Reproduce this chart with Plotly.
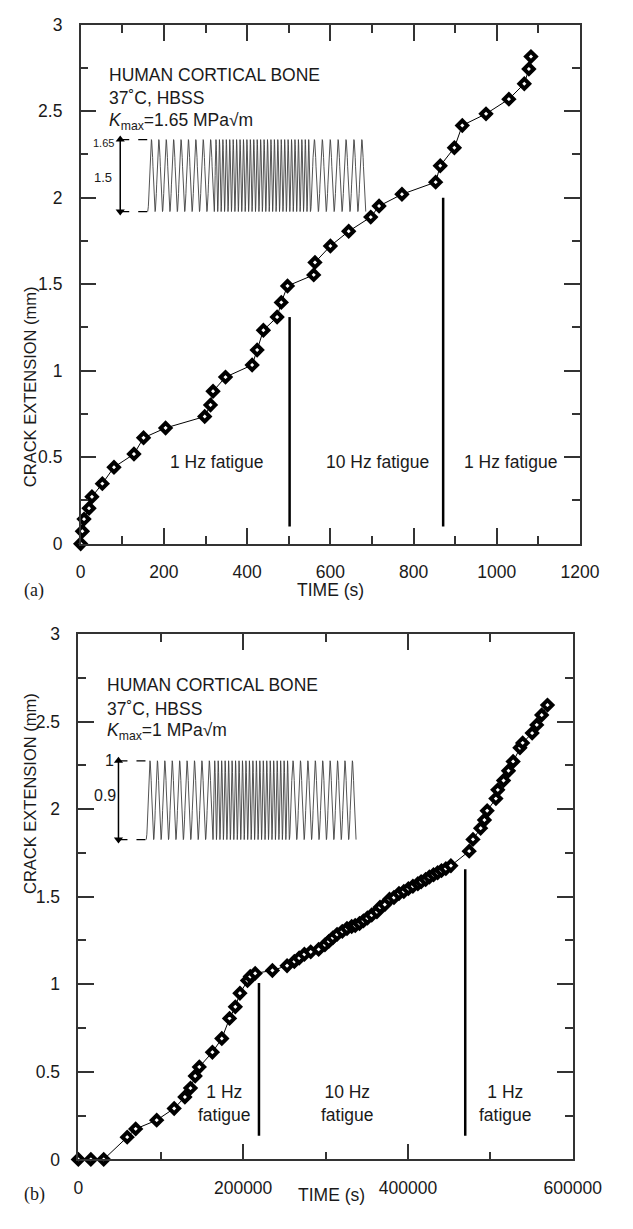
import numpy as np
import plotly.graph_objects as go

# ---------------- data: panel (a) ----------------
time_a = [0, 4, 8, 20, 27, 52, 80, 128, 151, 204, 298, 312, 318, 348, 412, 424, 439,
          472, 482, 497, 560, 563, 600, 644, 697, 717, 772, 853, 864, 898, 917, 974,
          1029, 1066, 1077, 1082]
crack_a = [0, 0.072, 0.142, 0.205, 0.271, 0.347, 0.442, 0.518, 0.612, 0.669, 0.735,
           0.802, 0.881, 0.963, 1.033, 1.120, 1.234, 1.310, 1.395, 1.490, 1.554, 1.626,
           1.721, 1.806, 1.888, 1.952, 2.020, 2.090, 2.185, 2.289, 2.418, 2.485, 2.570,
           2.659, 2.744, 2.816]

# ---------------- data: panel (b) ----------------
time_b = [0, 15200, 30800, 59300, 69600, 95100, 116300, 129300, 136100, 141800, 146800,
          162700, 174100, 183500, 190500, 196100, 205300, 208600, 214600,
          235500, 253300, 262100, 268000, 274300, 282000, 291600, 299200, 304000, 308800,
          314000, 320300, 326000, 331700, 336000, 341200, 346000, 350800, 356000, 362300,
          366100, 371900, 377600, 383000, 389100, 395000, 400500, 406000, 412000, 416000,
          421500, 426000, 431000, 436000, 440700, 446000, 452100,
          474300, 478900, 488200, 492800, 496100, 506700, 509000, 516000, 522000, 527600,
          535900, 539200, 550700, 556300, 562300, 569300]
crack_b = [0, 0, 0, 0.127, 0.174, 0.224, 0.291, 0.356, 0.407, 0.476, 0.528,
           0.612, 0.690, 0.805, 0.871, 0.949, 1.021, 1.044, 1.062,
           1.079, 1.106, 1.130, 1.150, 1.171, 1.185, 1.199, 1.225, 1.245, 1.265,
           1.285, 1.302, 1.318, 1.330, 1.335, 1.347, 1.362, 1.378, 1.395, 1.414,
           1.440, 1.455, 1.485, 1.495, 1.518, 1.530, 1.546, 1.560, 1.574, 1.585,
           1.598, 1.612, 1.625, 1.637, 1.649, 1.660, 1.677,
           1.760, 1.827, 1.891, 1.938, 1.991, 2.060, 2.110, 2.163, 2.219, 2.272,
           2.350, 2.378, 2.434, 2.481, 2.537, 2.594]

# frequency-change dividers: time, bottom, top
divider_time_a = [502, 871]
divider_bottom_a = [0.10, 0.10]
divider_top_a = [1.31, 2.00]
divider_time_b = [219200, 469500]
divider_bottom_b = [0.135, 0.135]
divider_top_b = [1.007, 1.657]

# region labels
region_labels_a = ["1 Hz fatigue", "10 Hz fatigue", "1 Hz fatigue"]
region_x_a = [326, 713, 1032]
region_y_a = 0.47
region_labels_b = ["1 Hz<br>fatigue", "10 Hz<br>fatigue", "1 Hz<br>fatigue"]
region_x_b = [177500, 327200, 518200]
region_y_b = 0.32

# inset info text
info_a = ["HUMAN CORTICAL BONE", "37˚C, HBSS", "<i>K</i><sub>max</sub>=1.65 MPa√m"]
info_b = ["HUMAN CORTICAL BONE", "37˚C, HBSS", "<i>K</i><sub>max</sub>=1 MPa√m"]
info_x_a = 64
info_x_b = 32400
info_y = [2.71, 2.574, 2.442]

# schematic loading waveforms: (start, end, cycles)
wave_seg_a = [(161, 321, 9), (321, 552, 28), (552, 685, 7)]
wave_lo_a, wave_hi_a = 1.92, 2.336
wave_arrow_a = 95
wave_seg_b = [(82400, 163400, 9), (163400, 256000, 22), (256000, 337000, 9)]
wave_lo_b, wave_hi_b = 1.826, 2.276
wave_arrow_b = 48700

FONT = "Liberation Sans, Arial, Helvetica, sans-serif"
FS = 17.5
INK = "#1a1a1a"
AX = "#333333"


def wave(segments, lo, hi, per_cycle=24):
    xs, ys = [], []
    mid, amp = (lo + hi) / 2, (hi - lo) / 2
    for a, b, n in segments:
        s = np.linspace(0, 1, n * per_cycle + 1)
        xs.extend(a + (b - a) * s)
        ys.extend(mid - amp * np.cos(2 * np.pi * n * s))
    return xs, ys


fig = go.Figure()

for t, c, xa, ya in [(time_a, crack_a, "x", "y"), (time_b, crack_b, "x2", "y2")]:
    fig.add_trace(go.Scatter(
        x=t, y=c, xaxis=xa, yaxis=ya, mode="lines+markers",
        line=dict(color="black", width=1),
        marker=dict(symbol="diamond", size=7.5, color="white",
                    line=dict(color="black", width=4)),
        cliponaxis=False, showlegend=False, hoverinfo="skip"))

shapes = []
annotations = []

for seg, lo, hi, arrow_x, xa, ya in [
        (wave_seg_a, wave_lo_a, wave_hi_a, wave_arrow_a, "x", "y"),
        (wave_seg_b, wave_lo_b, wave_hi_b, wave_arrow_b, "x2", "y2")]:
    wx, wy = wave(seg, lo, hi)
    fig.add_trace(go.Scatter(x=wx, y=wy, xaxis=xa, yaxis=ya, mode="lines",
                             line=dict(color="#404040", width=0.9),
                             showlegend=False, hoverinfo="skip"))
    for lvl in (lo, hi):
        shapes.append(dict(type="line", xref=xa, yref=ya, x0=arrow_x, x1=seg[0][0],
                           y0=lvl, y1=lvl, line=dict(color="black", width=1.2, dash="dash")))
    shapes.append(dict(type="line", xref=xa, yref=ya, x0=arrow_x, x1=arrow_x,
                       y0=lo, y1=hi, line=dict(color="black", width=1.5)))
    fig.add_trace(go.Scatter(x=[arrow_x, arrow_x], y=[hi, lo], xaxis=xa, yaxis=ya,
                             mode="markers",
                             marker=dict(symbol=["triangle-up", "triangle-down"], size=8,
                                         color="black", line=dict(width=0)),
                             cliponaxis=False, showlegend=False, hoverinfo="skip"))

for times, bots, tops, xr, yr in [(divider_time_a, divider_bottom_a, divider_top_a, "x", "y"),
                                  (divider_time_b, divider_bottom_b, divider_top_b, "x2", "y2")]:
    for t, b, tp in zip(times, bots, tops):
        shapes.append(dict(type="line", xref=xr, yref=yr, x0=t, x1=t, y0=b, y1=tp,
                           line=dict(color="black", width=2.5)))

annotations += [
    dict(x=54, y=2.318, xref="x", yref="y", text="1.65", showarrow=False,
         font=dict(family=FONT, size=11, color=INK)),
    dict(x=53, y=2.118, xref="x", yref="y", text="1.5", showarrow=False,
         font=dict(family=FONT, size=13, color=INK)),
    dict(x=37300, y=2.276, xref="x2", yref="y2", text="1", showarrow=False,
         font=dict(family=FONT, size=16, color=INK)),
    dict(x=31900, y=2.079, xref="x2", yref="y2", text="0.9", showarrow=False,
         font=dict(family=FONT, size=16, color=INK)),
]

for lines, ix, xr, yr in [(info_a, info_x_a, "x", "y"), (info_b, info_x_b, "x2", "y2")]:
    for txt, iy in zip(lines, info_y):
        annotations.append(dict(x=ix, y=iy, xref=xr, yref=yr, text=txt, showarrow=False,
                                xanchor="left", yanchor="middle",
                                font=dict(family=FONT, size=FS, color=INK)))

for txt, rx in zip(region_labels_a, region_x_a):
    annotations.append(dict(x=rx, y=region_y_a, xref="x", yref="y", text=txt,
                            showarrow=False, font=dict(family=FONT, size=FS, color=INK)))
for txt, rx in zip(region_labels_b, region_x_b):
    annotations.append(dict(x=rx, y=region_y_b, xref="x2", yref="y2", text=txt,
                            showarrow=False, align="center",
                            font=dict(family=FONT, size=FS, color=INK)))

W, H = 633, 1229
for cy in (279, 901):
    annotations.append(dict(x=15 / W, y=1 - cy / H, xref="paper", yref="paper",
                            text="CRACK EXTENSION (mm)", textangle=-90, showarrow=False,
                            font=dict(family=FONT, size=16.5, color=INK)))
for cx, cy in ((344, 590), (345, 1217)):
    annotations.append(dict(x=cx / W, y=1 - cy / H, xref="paper", yref="paper",
                            text="TIME (s)", showarrow=False,
                            font=dict(family=FONT, size=FS, color=INK)))
for txt, cy in (("(a)", 590), ("(b)", 1217)):
    annotations.append(dict(x=18 / W, y=1 - cy / H, xref="paper", yref="paper",
                            text=txt, showarrow=False,
                            font=dict(family="Liberation Serif, Times New Roman, serif",
                                      size=18, color=INK)))

axis_common = dict(showline=True, linecolor=AX, linewidth=1.5, mirror="ticks",
                   ticks="inside", ticklen=16, tickwidth=1.5, tickcolor=AX,
                   showgrid=False, zeroline=False,
                   tickfont=dict(family=FONT, size=FS, color=INK))

fig.update_layout(
    width=W, height=H, paper_bgcolor="white", plot_bgcolor="white",
    margin=dict(l=0, r=0, t=0, b=0), showlegend=False,
    xaxis=dict(domain=[80 / W, 607.7 / W], range=[0, 1200], dtick=200, anchor="y",
               ticklabelstandoff=12,
               minor=dict(dtick=100, ticks="inside", ticklen=8, tickwidth=1.5, tickcolor=AX),
               **axis_common),
    yaxis=dict(domain=[1 - 542.5 / H, 1 - 15 / H], range=[0, 3], dtick=0.5, anchor="x",
               ticklabelstandoff=13,
               minor=dict(dtick=0.25, ticks="inside", ticklen=8, tickwidth=1.5, tickcolor=AX),
               **axis_common),
    xaxis2=dict(domain=[77.5 / W, 600 / W], range=[0, 600000], dtick=200000,
                tickformat="d", anchor="y2", ticklabelstandoff=12,
                minor=dict(dtick=100000, ticks="inside", ticklen=8, tickwidth=1.5,
                           tickcolor=AX),
                **axis_common),
    yaxis2=dict(domain=[1 - 1168.4 / H, 1 - 634.3 / H], range=[0, 3], dtick=0.5,
                anchor="x2", ticklabelstandoff=13,
                minor=dict(dtick=0.25, ticks="inside", ticklen=8, tickwidth=1.5,
                           tickcolor=AX),
                **axis_common),
    shapes=shapes, annotations=annotations,
)

fig.write_html("out.html", config={"displayModeBar": False},
               post_script="document.body.style.margin='0px';"
                           "document.body.style.padding='0px';"
                           "document.documentElement.style.overflow='hidden';")
